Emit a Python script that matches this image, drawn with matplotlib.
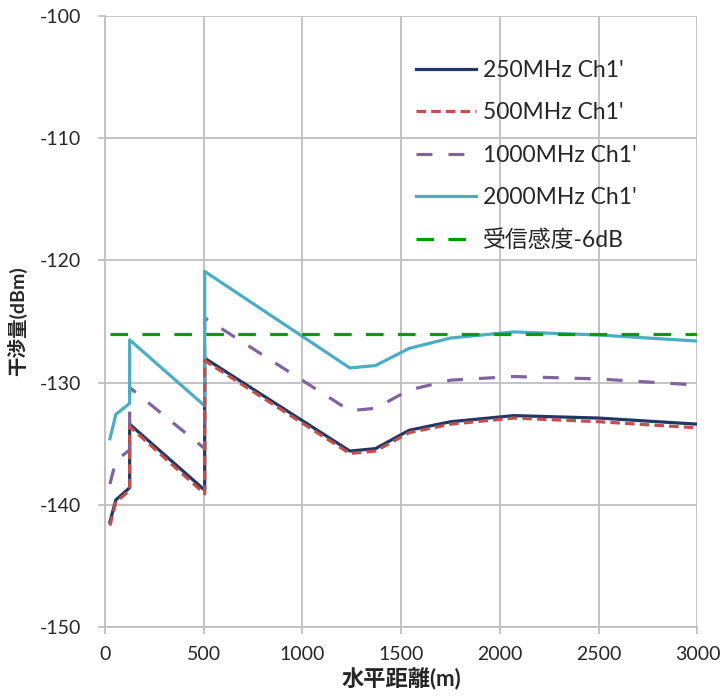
import matplotlib
matplotlib.use("Agg")
import matplotlib.pyplot as plt
from matplotlib.ticker import MultipleLocator

plt.rcParams['font.family'] = ['Lato', 'Noto Sans CJK JP', 'DejaVu Sans']
plt.rcParams['axes.unicode_minus'] = False

# horizontal distance (m)
distance = [25, 55, 125, 125, 505, 505, 1240, 1370, 1540, 1750, 2070, 2500, 3000]

ch250 = [-141.4, -139.6, -138.6, -133.4, -138.8, -128.0, -135.6, -135.4, -133.9, -133.2, -132.7, -132.9, -133.4]
ch500 = [-141.7, -139.8, -138.8, -133.6, -139.1, -128.2, -135.8, -135.6, -134.1, -133.4, -132.9, -133.2, -133.7]
ch1000 = [-138.3, -136.4, -135.5, -130.4, -135.4, -124.7, -132.3, -132.1, -130.6, -129.8, -129.5, -129.7, -130.2]
ch2000 = [-134.6, -132.6, -131.7, -126.5, -131.9, -120.9, -128.8, -128.6, -127.2, -126.35, -125.85, -126.1, -126.6]

sens_x = [25, 3000]
sens_y = [-126, -126]

labels = ["250MHz Ch1'", "500MHz Ch1'", "1000MHz Ch1'", "2000MHz Ch1'", "受信感度-6dB"]

fig = plt.figure(figsize=(7.22, 6.97), dpi=100)
ax = fig.add_axes([0.1454, 0.1004, 0.8206, 0.8766])

lw = 2.3
ax.plot(distance, ch250, color='#1F3864', lw=lw, label=labels[0], zorder=3)
ax.plot(distance, ch500, color='#C0504D', lw=lw, ls=(0, (3.0, 1.6)), label=labels[1], zorder=4)
ax.plot(distance, ch1000, color='#8064A2', lw=lw, ls=(0, (5.0, 5.0)), label=labels[2], zorder=3)
ax.plot(distance, ch2000, color='#4BACC6', lw=lw, label=labels[3], zorder=3)
ax.plot(sens_x, sens_y, color='#00A000', lw=lw, ls=(0, (5.5, 4.5)), label=labels[4], zorder=3)

ax.set_xlim(0, 3000)
ax.set_ylim(-150, -100)
ax.xaxis.set_major_locator(MultipleLocator(500))
ax.yaxis.set_major_locator(MultipleLocator(10))

ax.grid(True, color='#BFBFBF', lw=1.3)
ax.set_axisbelow(True)
for s in ['top', 'right']:
    ax.spines[s].set_visible(False)
for s in ['left', 'bottom']:
    ax.spines[s].set_color('#BFBFBF')
    ax.spines[s].set_linewidth(1.3)
ax.tick_params(axis='both', colors='#BFBFBF', length=5, width=1.3, labelsize=14,
               labelcolor='#262626', direction='out')
ax.tick_params(axis='y', pad=12)
ax.tick_params(axis='x', pad=9)

ax.set_xlabel('水平距離(m)', fontsize=16, fontweight='bold', color='#262626', labelpad=3)
ax.set_ylabel('干渉量(dBm)', fontsize=14, fontweight='bold', color='#262626', labelpad=9)

leg = ax.legend(loc='upper left', bbox_to_anchor=(0.51, 0.943), frameon=False,
                fontsize=16.5, handlelength=2.6, handletextpad=0.3, labelspacing=0.93,
                borderaxespad=0)
for t in leg.get_texts():
    t.set_color('#262626')

fig.savefig('out.png', dpi=100)
